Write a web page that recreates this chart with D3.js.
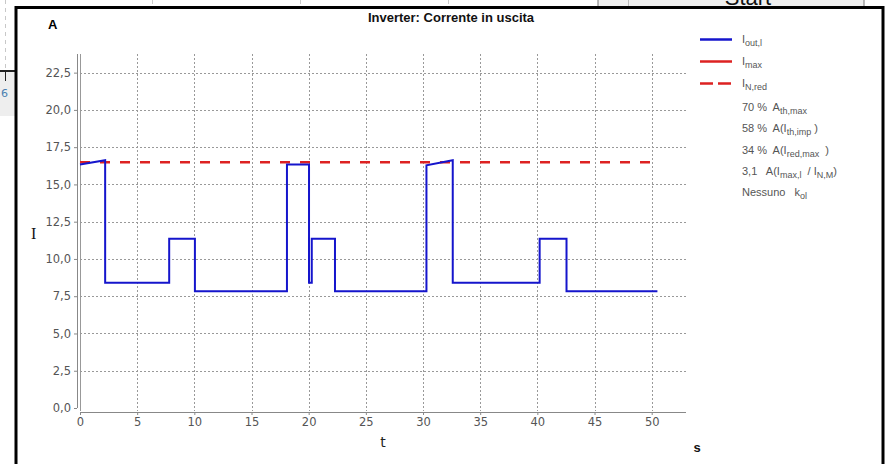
<!DOCTYPE html>
<html>
<head>
<meta charset="utf-8">
<script src="https://cdn.jsdelivr.net/npm/d3@7"></script>
<style>
    body { margin: 0; background: #fff; }
    svg { display: block; }
    .tick-label { font-family: "DejaVu Sans", sans-serif; font-size: 11.5px; fill: #555; }
    .legend-text { font-family: "Liberation Sans", Arial, sans-serif; font-size: 11px; fill: #555; white-space: pre; }
</style>
</head>
<body>
<div id="chart"></div>
<script>
// Chart data
const timeValues = [0, 2.2, 2.2, 7.8, 7.8, 10.05, 10.05, 18.1, 18.1, 20.03, 20.03, 20.27, 20.27, 22.3, 22.3, 30.3, 30.3, 32.6, 32.6, 40.2, 40.2, 42.55, 42.55, 50.5];
const currentValues = [16.33, 16.62, 8.4, 8.4, 11.36, 11.36, 7.84, 7.84, 16.33, 16.33, 8.4, 8.4, 11.36, 11.36, 7.84, 7.84, 16.28, 16.62, 8.4, 8.4, 11.36, 11.36, 7.84, 7.84];
const nominalReduced = [16.48, 16.48];
const nominalTimes = [0, 50.5];
const xTicks = [0, 5, 10, 15, 20, 25, 30, 35, 40, 45, 50];
const yTicks = [0, 2.5, 5, 7.5, 10, 12.5, 15, 17.5, 20, 22.5];

// legend rows: [text, 'sub' for subscripts]
const legendSeries = [
    { parts: [['I', ''], ['out,l', 'sub']], color: '#1515cc', dash: null },
    { parts: [['I', ''], ['max', 'sub']], color: '#dd2222', dash: null },
    { parts: [['I', ''], ['N,red', 'sub']], color: '#dd2222', dash: '13,5' }
];
const legendInfo = [
    [['70 %  A', ''], ['th,max', 'sub']],
    [['58 %  A(I', ''], ['th,imp', 'sub'], [' )', '']],
    [['34 %  A(I', ''], ['red,max', 'sub'], ['  )', '']],
    [['3,1   A(I', ''], ['max,l', 'sub'], ['  / I', ''], ['N,M', 'sub'], [')', '']],
    [['Nessuno   k', ''], ['ol', 'sub']]
];

const width = 886;
const height = 464;

const svg = d3.select('#chart')
    .append('svg')
    .attr('width', width)
    .attr('height', height);

// Stuff around the chart frame (part of the surrounding window)
svg.append('rect').attr('x', 0).attr('y', 72).attr('width', 16).attr('height', 44).attr('fill', '#eeeeee');
svg.append('line').attr('x1', 5.5).attr('x2', 5.5).attr('y1', 0).attr('y2', 70)
    .attr('stroke', '#c8c8c8').attr('stroke-dasharray', '4,4');
svg.append('line').attr('x1', 0).attr('x2', 16).attr('y1', 71).attr('y2', 71).attr('stroke', '#222').attr('stroke-width', 2);
svg.append('line').attr('x1', 5.5).attr('x2', 5.5).attr('y1', 71).attr('y2', 81).attr('stroke', '#222');
svg.append('text').attr('x', 1).attr('y', 97).attr('font-family', 'DejaVu Sans, sans-serif')
    .attr('font-size', 11).attr('fill', '#4a7fb0').text('6');
[152, 300, 448].forEach(x => {
    svg.append('line').attr('x1', x + 0.5).attr('x2', x + 0.5).attr('y1', 0).attr('y2', 4).attr('stroke', '#ccc');
});
svg.append('rect').attr('x', 598).attr('y', -2).attr('width', 266).attr('height', 10)
    .attr('fill', '#efefef').attr('stroke', '#777');
svg.append('line').attr('x1', 628.5).attr('x2', 628.5).attr('y1', 0).attr('y2', 7).attr('stroke', '#bbb');
svg.append('text').attr('x', 748).attr('y', 5).attr('text-anchor', 'middle')
    .attr('font-family', 'Liberation Sans, Arial, sans-serif').attr('font-size', 22).attr('fill', '#111').text('Start');

// Chart frame
svg.append('rect')
    .attr('x', 16).attr('y', 7.5)
    .attr('width', 867).attr('height', 480)
    .attr('fill', '#fff')
    .attr('stroke', '#000')
    .attr('stroke-width', 3);

// Plot area
const plot = { left: 80, right: 686, top: 54, bottom: 408 };

const x = d3.scaleLinear().domain([0, 53]).range([plot.left, plot.right]);
const y = d3.scaleLinear().domain([0, 23.75]).range([plot.bottom, plot.top]);

const g = svg.append('g');

// Grid lines
g.selectAll('.hgrid')
    .data(yTicks.filter(d => d > 0))
    .enter()
    .append('line')
    .attr('x1', plot.left).attr('x2', plot.right)
    .attr('y1', d => Math.round(y(d)) + 0.5).attr('y2', d => Math.round(y(d)) + 0.5)
    .attr('stroke', '#999').attr('stroke-dasharray', '2,2');

g.selectAll('.vgrid')
    .data(xTicks.filter(d => d > 0))
    .enter()
    .append('line')
    .attr('x1', d => Math.round(x(d)) + 0.5).attr('x2', d => Math.round(x(d)) + 0.5)
    .attr('y1', plot.top).attr('y2', plot.bottom + 3)
    .attr('stroke', '#999').attr('stroke-dasharray', '2,2');

// left plot edge
g.append('line')
    .attr('x1', plot.left + 0.5).attr('x2', plot.left + 0.5)
    .attr('y1', plot.top).attr('y2', plot.bottom + 3)
    .attr('stroke', '#999');

// Axes (offset a few px from the plot area)
const yAxis = svg.append('g').attr('transform', `translate(${plot.left - 3}, 0)`)
    .call(d3.axisLeft(y).tickValues(yTicks).tickSize(3).tickPadding(3)
        .tickFormat(d => d3.format('.1f')(d).replace('.', ',')));
const xAxis = svg.append('g').attr('transform', `translate(0, ${plot.bottom + 4})`)
    .call(d3.axisBottom(x).tickValues(xTicks).tickSize(3).tickPadding(3));

[xAxis, yAxis].forEach(ax => {
    ax.select('.domain').attr('stroke', '#888');
    ax.selectAll('.tick line').attr('stroke', '#888');
    ax.selectAll('.tick text').attr('class', 'tick-label');
});
xAxis.select('.domain').attr('d', `M${plot.left},0.5H${plot.right}`);
yAxis.select('.domain').attr('d', `M0.5,${plot.top}V${plot.bottom}`);

// Series
const line = d3.line().x(d => x(d[0])).y(d => y(d[1]));

g.append('path')
    .datum(nominalTimes.map((t, i) => [t, nominalReduced[i]]))
    .attr('d', line)
    .attr('fill', 'none')
    .attr('stroke', '#dd2222')
    .attr('stroke-width', 2.5)
    .attr('stroke-dasharray', '10,10');

g.append('path')
    .datum(timeValues.map((t, i) => [t, currentValues[i]]))
    .attr('d', line)
    .attr('fill', 'none')
    .attr('stroke', '#1515cc')
    .attr('stroke-width', 2)
    .attr('stroke-linejoin', 'miter');

// Titles and axis labels
svg.append('text')
    .attr('x', 451).attr('y', 22)
    .attr('text-anchor', 'middle')
    .attr('font-family', 'Liberation Sans, Arial, sans-serif')
    .attr('font-size', 13).attr('font-weight', 'bold').attr('fill', '#111')
    .text('Inverter: Corrente in uscita');
svg.append('text')
    .attr('x', 48).attr('y', 29)
    .attr('font-family', 'Liberation Sans, Arial, sans-serif')
    .attr('font-size', 13).attr('font-weight', 'bold').attr('fill', '#000')
    .text('A');
svg.append('text')
    .attr('x', 31).attr('y', 239)
    .attr('font-family', 'Liberation Serif, serif')
    .attr('font-size', 16).attr('fill', '#111')
    .text('I');
svg.append('text')
    .attr('x', 383).attr('y', 447)
    .attr('text-anchor', 'middle')
    .attr('font-family', 'DejaVu Sans, sans-serif')
    .attr('font-size', 14).attr('fill', '#222')
    .text('t');
svg.append('text')
    .attr('x', 697).attr('y', 452)
    .attr('text-anchor', 'middle')
    .attr('font-family', 'Liberation Sans, Arial, sans-serif')
    .attr('font-size', 13).attr('font-weight', 'bold').attr('fill', '#111')
    .text('s');

// Legend
function writeParts(textSel, parts) {
    parts.forEach((p, i) => {
        const ts = textSel.append('tspan').text(p[0]);
        if (p[1] === 'sub') {
            ts.attr('font-size', 9).attr('dy', 3);
        } else if (i > 0) {
            ts.attr('dy', -3);
        }
    });
}

const legend = svg.append('g');
legendSeries.forEach((s, i) => {
    const ly = 39.5 + i * 22;
    legend.append('line')
        .attr('x1', 700).attr('x2', 732)
        .attr('y1', ly).attr('y2', ly)
        .attr('stroke', s.color)
        .attr('stroke-width', 2.5)
        .attr('stroke-dasharray', s.dash);
    const t = legend.append('text').attr('class', 'legend-text')
        .attr('x', 742).attr('y', ly + 3);
    writeParts(t, s.parts);
});
legendInfo.forEach((parts, i) => {
    const t = legend.append('text').attr('class', 'legend-text')
        .attr('x', 742).attr('y', 111 + i * 21.3);
    writeParts(t, parts);
});
</script>
</body>
</html>
